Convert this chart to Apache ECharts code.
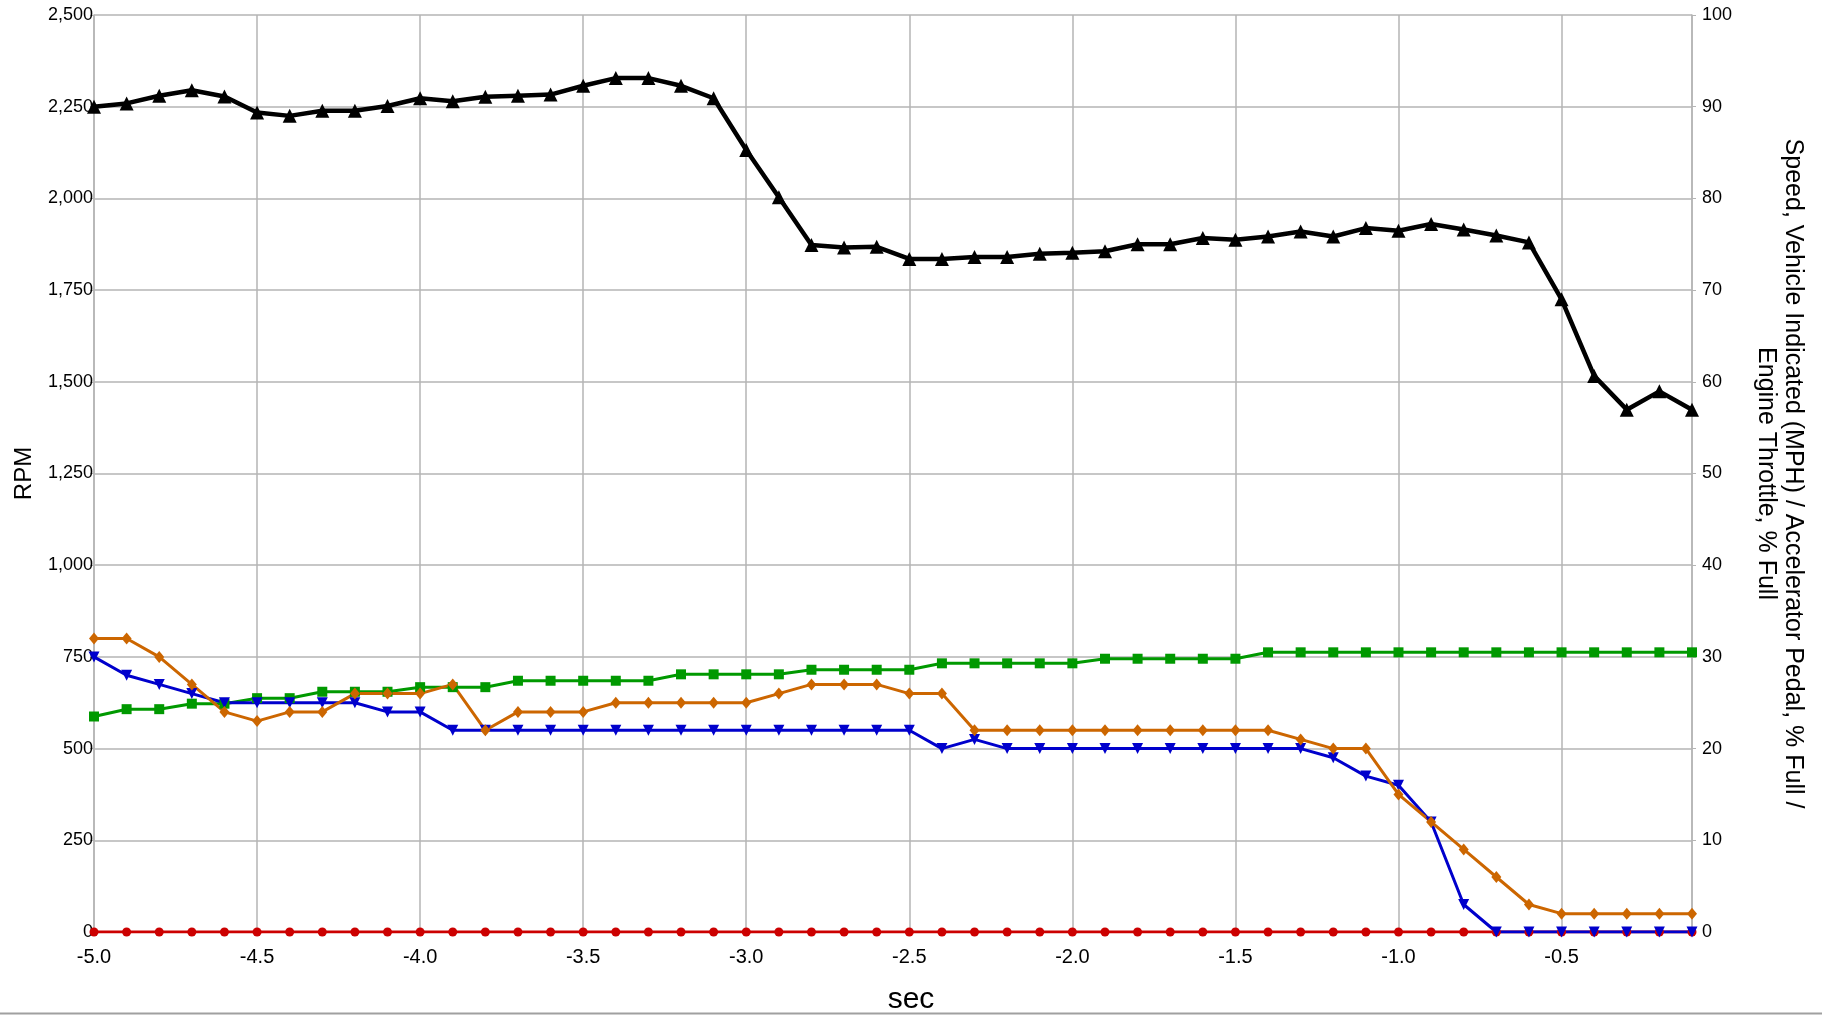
<!DOCTYPE html>
<html>
<head>
<meta charset="utf-8">
<script src="https://cdn.jsdelivr.net/npm/echarts@6/dist/echarts.min.js"></script>
<style>
html,body{margin:0;padding:0;background:#fff;}
#chart{width:1822px;height:1015px;}
</style>
</head>
<body>
<div id="chart"></div>
<script>
const seconds = [-5.0,-4.9,-4.8,-4.7,-4.6,-4.5,-4.4,-4.3,-4.2,-4.1,-4.0,-3.9,-3.8,-3.7,-3.6,-3.5,-3.4,-3.3,-3.2,-3.1,-3.0,-2.9,-2.8,-2.7,-2.6,-2.5,-2.4,-2.3,-2.2,-2.1,-2.0,-1.9,-1.8,-1.7,-1.6,-1.5,-1.4,-1.3,-1.2,-1.1,-1.0,-0.9,-0.8,-0.7,-0.6,-0.5,-0.4,-0.3,-0.2,-0.1];

const engineRpm = [2250,2259,2280,2295,2278,2234,2225,2239,2239,2252,2273,2265,2277,2280,2283,2307,2328,2328,2307,2273,2132,2003,1873,1866,1868,1835,1835,1840,1840,1849,1852,1856,1875,1875,1892,1887,1896,1910,1896,1919,1912,1930,1915,1899,1880,1725,1516,1424,1474,1424];

const greenSeries = [23.5,24.3,24.3,24.9,24.9,25.5,25.5,26.2,26.2,26.2,26.7,26.7,26.7,27.4,27.4,27.4,27.4,27.4,28.1,28.1,28.1,28.1,28.6,28.6,28.6,28.6,29.3,29.3,29.3,29.3,29.3,29.8,29.8,29.8,29.8,29.8,30.5,30.5,30.5,30.5,30.5,30.5,30.5,30.5,30.5,30.5,30.5,30.5,30.5,30.5];

const orangeSeries = [32,32,30,27,24,23,24,24,26,26,26,27,22,24,24,24,25,25,25,25,25,26,27,27,27,26,26,22,22,22,22,22,22,22,22,22,22,21,20,20,15,12,9,6,3,2,2,2,2,2];

const blueSeries = [30,28,27,26,25,25,25,25,25,24,24,22,22,22,22,22,22,22,22,22,22,22,22,22,22,22,20,21,20,20,20,20,20,20,20,20,20,20,19,17,16,12,3,0,0,0,0,0,0,0];

const redSeries = [0,0,0,0,0,0,0,0,0,0,0,0,0,0,0,0,0,0,0,0,0,0,0,0,0,0,0,0,0,0,0,0,0,0,0,0,0,0,0,0,0,0,0,0,0,0,0,0,0,0];

const leftTicks = {min:0, max:2500, interval:250};
const rightTicks = {min:0, max:100, interval:10};
const xTicks = {min:-5, max:-0.1, interval:0.5};

function pairs(xs, ys){ return xs.map((x,i)=>[x, ys[i]]); }

const FONT = 'Liberation Sans, Arial, sans-serif';
const gridColor = '#b4b4b4';

const chart = echarts.init(document.getElementById('chart'), null, {renderer:'canvas'});
chart.setOption({
  animation:false,
  backgroundColor:'#ffffff',
  textStyle:{fontFamily:FONT},
  grid:{left:94, right:130, top:15, bottom:83, containLabel:false, outerBoundsMode:'none'},
  graphic:[{type:'line', shape:{x1:0,y1:1013.5,x2:1822,y2:1013.5}, style:{stroke:'#a0a0a0', lineWidth:2}}],
  xAxis:{
    type:'value', min:xTicks.min, max:xTicks.max, interval:xTicks.interval,
    name:'sec', nameLocation:'middle', nameGap:53,
    nameTextStyle:{fontSize:30, color:'#000', fontFamily:FONT, padding:[0,0,0,36]},
    axisLine:{show:true, onZero:false, lineStyle:{color:gridColor, width:1.5}},
    axisTick:{show:false},
    axisLabel:{fontSize:20, color:'#000', margin:15, showMaxLabel:false, formatter:v=>v.toFixed(1), fontFamily:FONT},
    splitLine:{show:true, lineStyle:{color:gridColor, width:1.5}}
  },
  yAxis:[{
    type:'value', min:leftTicks.min, max:leftTicks.max, interval:leftTicks.interval,
    name:'RPM', nameLocation:'middle', nameGap:58, nameRotate:90,
    nameTextStyle:{fontSize:24, color:'#000', fontFamily:FONT},
    axisLine:{show:true, lineStyle:{color:gridColor, width:1.5}},
    axisTick:{show:true, length:4, lineStyle:{color:gridColor}},
    axisLabel:{fontSize:18, color:'#000', margin:1, formatter:v=>v.toLocaleString('en-US'), fontFamily:FONT},
    splitLine:{show:true, lineStyle:{color:gridColor, width:1.5}}
  },{
    type:'value', min:rightTicks.min, max:rightTicks.max, interval:rightTicks.interval,
    position:'right',
    name:'Speed, Vehicle Indicated (MPH) / Accelerator Pedal, % Full /\nEngine Throttle, % Full',
    nameLocation:'middle', nameGap:60, nameRotate:-90,
    nameTextStyle:{fontSize:25, color:'#000', lineHeight:27, fontFamily:FONT},
    axisLine:{show:true, lineStyle:{color:gridColor, width:1.5}},
    axisTick:{show:true, length:4, lineStyle:{color:gridColor}},
    axisLabel:{fontSize:18, color:'#000', margin:10, fontFamily:FONT},
    splitLine:{show:false}
  }],
  series:[
    {name:'Accelerator Pedal', type:'line', yAxisIndex:1, data:pairs(seconds, redSeries),
     symbol:'circle', symbolSize:9, showAllSymbol:true,
     lineStyle:{color:'#cc0000', width:3}, itemStyle:{color:'#cc0000'}},
    {name:'Engine Throttle', type:'line', yAxisIndex:1, data:pairs(seconds, greenSeries),
     symbol:'rect', symbolSize:10, showAllSymbol:true,
     lineStyle:{color:'#009900', width:3}, itemStyle:{color:'#009900'}},
    {name:'Blue', type:'line', yAxisIndex:1, data:pairs(seconds, blueSeries),
     symbol:'triangle', symbolRotate:180, symbolSize:11, showAllSymbol:true,
     lineStyle:{color:'#0000cc', width:3}, itemStyle:{color:'#0000cc'}},
    {name:'Orange', type:'line', yAxisIndex:1, data:pairs(seconds, orangeSeries),
     symbol:'diamond', symbolSize:[10,12], showAllSymbol:true,
     lineStyle:{color:'#cc6600', width:3}, itemStyle:{color:'#cc6600'}},
    {name:'Engine RPM', type:'line', yAxisIndex:0, data:pairs(seconds, engineRpm),
     symbol:'triangle', symbolSize:14, showAllSymbol:true,
     lineStyle:{color:'#000000', width:4.5}, itemStyle:{color:'#000000'}}
  ]
});
</script>
</body>
</html>
